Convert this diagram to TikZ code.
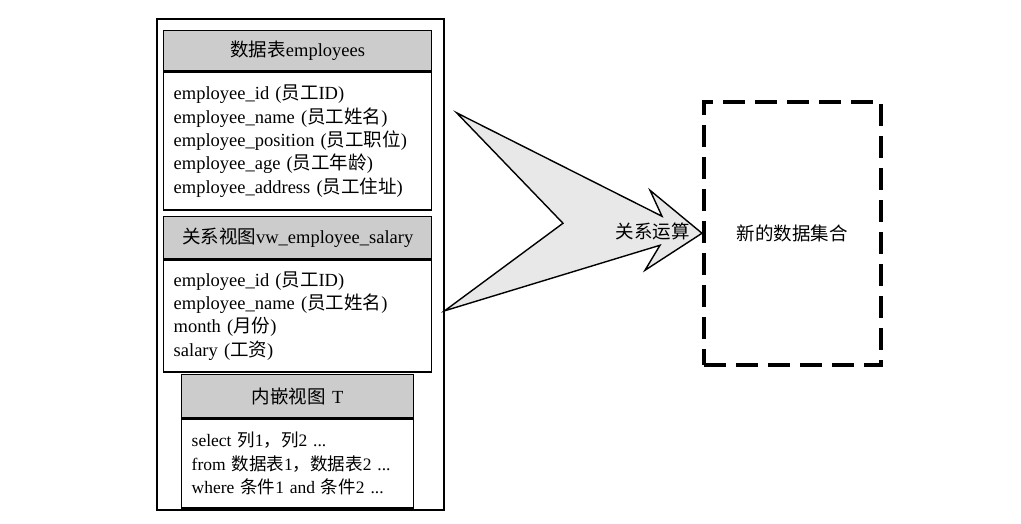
\documentclass[tikz,border=0pt]{standalone}
\usepackage{fontspec}
\setmainfont{Liberation Serif}
\newfontfamily\cjk{Noto Sans CJK SC}
\usepackage{tikz}
\usetikzlibrary{positioning, calc}
\definecolor{HeadGray}{gray}{0.80}
\definecolor{ArrowGray}{gray}{0.91}
\newcommand{\zh}[1]{{\cjk #1}}

\begin{document}
\begin{tikzpicture}[x=1pt, y=-1pt,
    every node/.style={font=\fontsize{18.5}{23.3}\selectfont},
    headbox/.style={draw, line width=1.4pt, fill=HeadGray, inner xsep=10pt, inner ysep=0pt,
        minimum width=#1, text width=#1-20pt, align=center},
    fieldbox/.style={draw, line width=1.4pt, inner xsep=10pt, inner ysep=0pt,
        minimum width=#1, text width=#1-20pt, align=left}]
\useasboundingbox (0,0) rectangle (1021,523);

% outer frame round the three sources
\node (outer) [draw, line width=1.6pt, minimum width=287pt, minimum height=491pt,
      anchor=north west, inner sep=0pt] at (156,18) {};

% data table
\node (tblHead) [headbox=268pt, minimum height=40pt, anchor=north west] at (163,30)
    {\zh{数据表}employees};
\node (tblBody) [fieldbox=268pt, minimum height=138pt, below=0pt of tblHead] {%
    employee\_id (\zh{员工}ID)\\
    employee\_name (\zh{员工姓名})\\
    employee\_position (\zh{员工职位})\\
    employee\_age (\zh{员工年龄})\\
    employee\_address (\zh{员工住址})};

% relational view
\node (viewHead) [headbox=268pt, minimum height=42pt, below=5pt of tblBody]
    {\zh{关系视图}vw\_employee\_salary};
\node (viewBody) [fieldbox=268pt, minimum height=112pt, below=0pt of viewHead] {%
    employee\_id (\zh{员工}ID)\\
    employee\_name (\zh{员工姓名})\\
    month (\zh{月份})\\
    salary (\zh{工资})};

% inline view
\node (inlHead) [headbox=232pt, minimum height=43pt, anchor=north west] at (181,374)
    {\zh{内嵌视图} T};
\node (inlBody) [fieldbox=232pt, minimum height=89pt, below=0pt of inlHead,
      font=\fontsize{17.5}{23.3}\selectfont] {%
    select \zh{列}1\zh{，列}2 ...\\
    from \zh{数据表}1\zh{，数据表}2 ...\\
    where \zh{条件}1 and \zh{条件}2 ...};

% result set
\node (result) [draw, line width=3.5pt, dash pattern=on 22pt off 10pt,
      minimum width=177pt, minimum height=263pt, anchor=north west, inner sep=0pt]
      at (702,100) {\zh{新的数据集合}};

% fat arrow
\draw[line width=1.4pt, fill=ArrowGray, line join=miter]
    (result.west) -- ++(-52,-43) -- ($(result.west)+(-40,-17)$)
    -- ($(outer.east)+(12,-151.5)$) -- ($(result.west)+(-139,-10)$)
    -- ($(outer.east)+(0,46.5)$) -- ($(result.west)+(-42,12)$)
    -- ($(result.west)+(-57,37)$) -- cycle;
\node (op) [anchor=east, inner sep=0pt] at ($(result.west)+(-12,-2)$) {\zh{关系运算}};
\end{tikzpicture}
\end{document}
